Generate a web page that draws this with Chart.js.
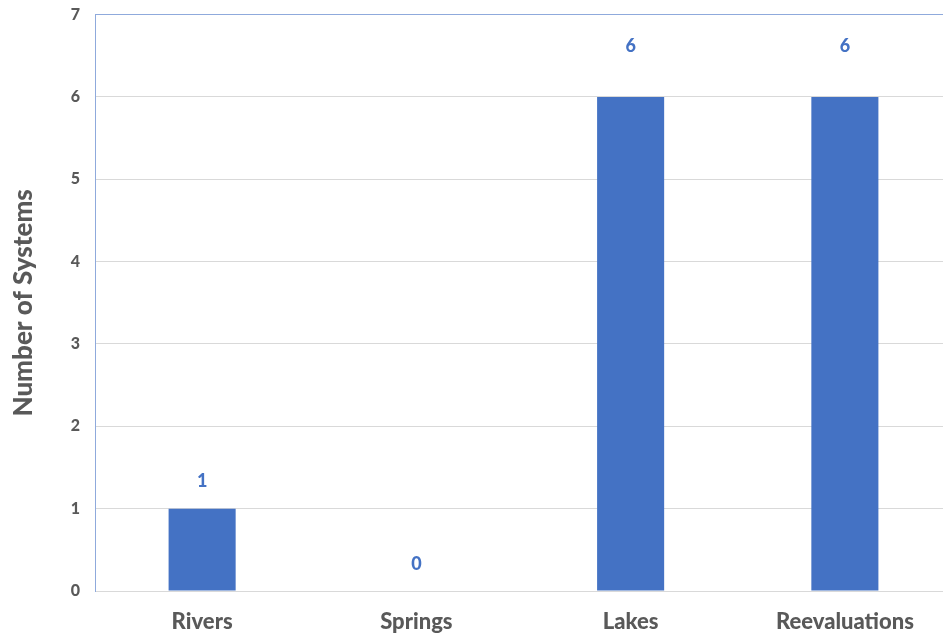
<!DOCTYPE html>
<html>
<head>
<meta charset="utf-8">
<script src="https://cdn.jsdelivr.net/npm/chart.js@4.4.1/dist/chart.umd.min.js"></script>
<style>
  html, body { margin: 0; padding: 0; background: #fff; overflow: hidden; }
  #wrap { width: 952px; height: 644px; margin-top: -10px; }
</style>
</head>
<body>
<div id="wrap"><canvas id="myChart" width="952" height="644"></canvas></div>
<script>
// Datos de la grafica
var categories = ["Rivers", "Springs", "Lakes", "Reevaluations"];
var systemCounts = [1, 0, 6, 6];
var yTicks = [0, 1, 2, 3, 4, 5, 6, 7];

var barColor = "#4472c4";
var textGray = "#595959";
var fontName = "Lato, 'Open Sans', sans-serif";

// Etiquetas de valor sobre las barras
var valueLabels = {
    id: "valueLabels",
    afterDatasetsDraw: function(chart) {
        var ctx = chart.ctx;
        var meta = chart.getDatasetMeta(0);
        ctx.save();
        ctx.fillStyle = barColor;
        ctx.font = "900 18px " + fontName;
        ctx.textAlign = "center";
        ctx.textBaseline = "middle";
        meta.data.forEach(function(bar, i) {
            var v = systemCounts[i];
            var off = v >= 6 ? 51 : 27;
            ctx.fillText(String(v), bar.x, bar.y - off);
        });
        ctx.restore();
    }
};

var myChart = new Chart(document.getElementById("myChart"), {
    type: "bar",
    data: {
        labels: categories,
        datasets: [{
            data: systemCounts,
            backgroundColor: barColor,
            borderWidth: 0,
            barPercentage: 0.313,
            categoryPercentage: 1.0
        }]
    },
    options: {
        responsive: false,
        animation: false,
        layout: { padding: { top: 4, right: 0, left: 0, bottom: 0 } },
        plugins: {
            legend: { display: false },
            tooltip: { enabled: false }
        },
        scales: {
            x: {
                grid: { display: false },
                border: { color: "#d9d9d9", width: 1 },
                ticks: {
                    color: textGray,
                    font: { family: fontName, size: 22, weight: "900" },
                    padding: 10
                },
                afterFit: function(scale) { scale.height = 43; }
            },
            y: {
                min: 0,
                max: 7,
                afterBuildTicks: function(scale) {
                    scale.ticks = yTicks.map(function(v) { return { value: v }; });
                },
                grid: {
                    color: function(c) {
                        if (c.tick && c.tick.value === 7) return "#8faadc";
                        return "#d9d9d9";
                    },
                    drawTicks: false
                },
                border: { color: "#8faadc", width: 1 },
                ticks: {
                    color: textGray,
                    font: { family: fontName, size: 16, weight: "900" },
                    padding: 15
                },
                title: {
                    display: true,
                    text: "Number of Systems",
                    color: textGray,
                    font: { family: fontName, size: 26, weight: "900" },
                    padding: { top: 8, bottom: 0 }
                },
                afterFit: function(scale) { scale.width = 95; }
            }
        }
    },
    plugins: [valueLabels]
});
</script>
</body>
</html>
